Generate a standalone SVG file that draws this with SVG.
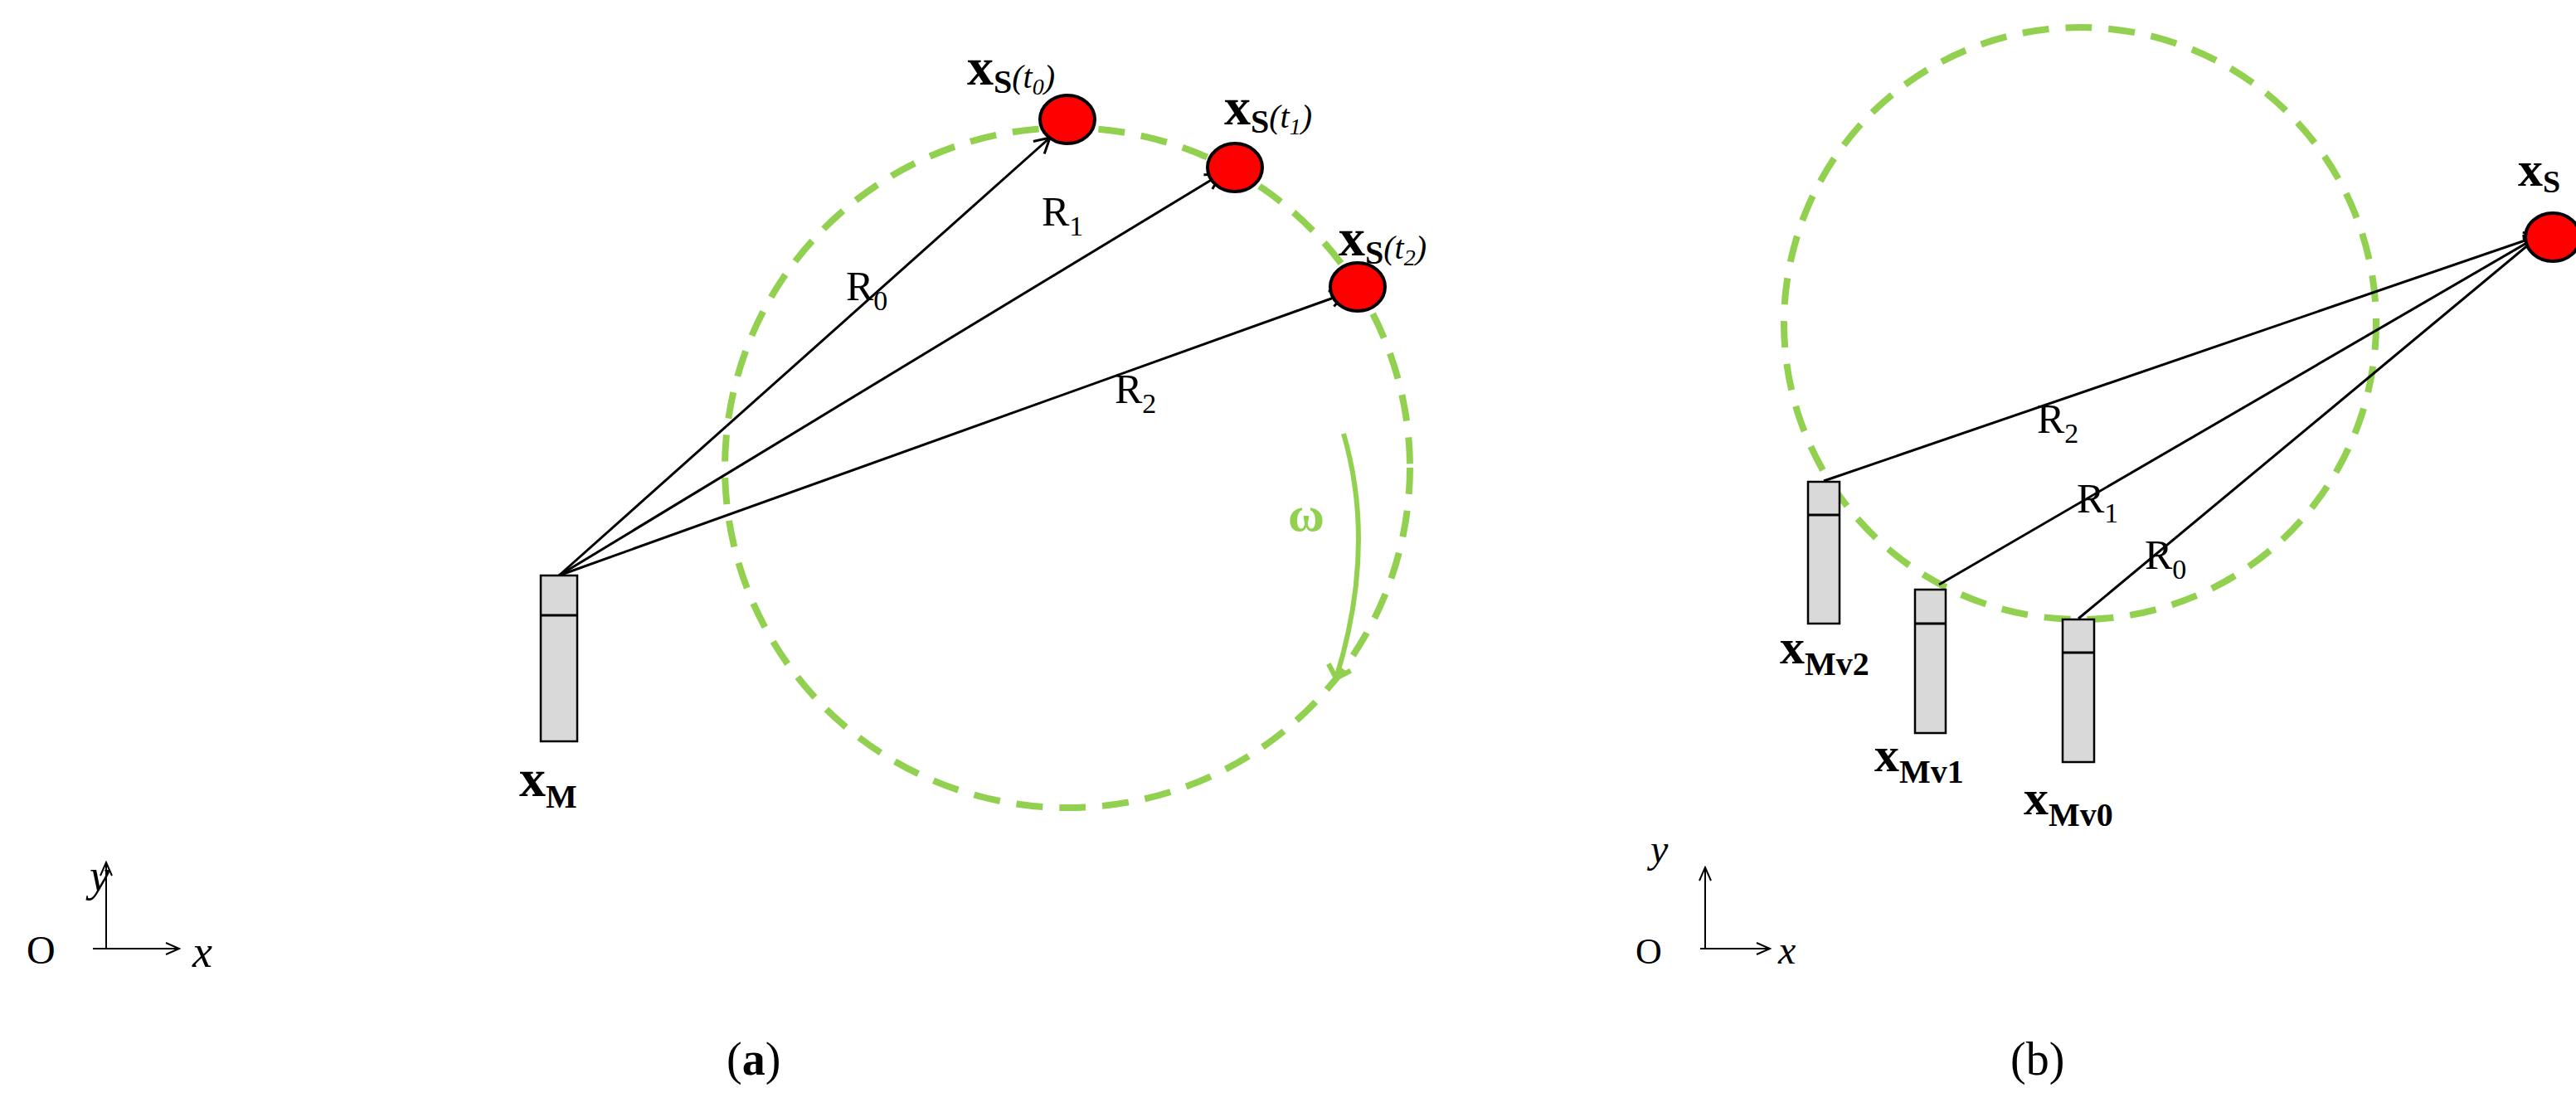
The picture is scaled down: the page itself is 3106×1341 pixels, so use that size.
<svg xmlns="http://www.w3.org/2000/svg" width="3106" height="1341" viewBox="0 0 3106 1341">
<defs>
<marker id="ah" markerWidth="10" markerHeight="10" refX="9" refY="5" orient="auto" markerUnits="userSpaceOnUse" viewBox="0 0 10 10"><path d="M0,0 L10,5 L0,10" fill="none" stroke="#000" stroke-width="1.5"/></marker>
<marker id="ah2" markerWidth="24" markerHeight="24" refX="20" refY="12" orient="auto" markerUnits="userSpaceOnUse"><path d="M2,2 L20,12 L2,22" fill="none" stroke="#000" stroke-width="3"/></marker>
<marker id="ax" markerWidth="20" markerHeight="20" refX="18" refY="10" orient="auto" markerUnits="userSpaceOnUse"><path d="M2,3 L18,10 L2,17" fill="none" stroke="#000" stroke-width="2"/></marker>
<marker id="ga" markerWidth="40" markerHeight="40" refX="20" refY="20" orient="auto" markerUnits="userSpaceOnUse"><path d="M6,6 L20,20 L6,34" fill="none" stroke="#92d050" stroke-width="6"/></marker>
</defs>
<style>
.orbit{fill:none;stroke:#92d050;stroke-width:8;stroke-dasharray:32 20}
.ln{stroke:#000;stroke-width:3;fill:none}
.sat{fill:#f00;stroke:#000;stroke-width:4}
.ant{fill:#d9d9d9;stroke:#000;stroke-width:2.5}
.t{font-family:"Liberation Serif",serif;fill:#000}
.b{font-weight:bold}
.i{font-style:italic}
</style>
<rect width="3106" height="1341" fill="#fff"/>
<g id="orbit-a"><ellipse class="orbit" cx="1287" cy="564" rx="413" ry="410"/></g>
<g id="orbit-b"><circle class="orbit" cx="2508" cy="390" r="357"/></g>
<g id="connectors">
<line class="ln" x1="674" y1="694" x2="1266" y2="166" marker-end="url(#ah2)"/>
<line class="ln" x1="674" y1="694" x2="1472" y2="210" marker-end="url(#ah2)"/>
<line class="ln" x1="674" y1="694" x2="1622" y2="354" marker-end="url(#ah2)"/>
<line class="ln" x1="2199" y1="580" x2="3062" y2="284" marker-end="url(#ah2)"/>
<line class="ln" x1="2338" y1="705" x2="3062" y2="284" marker-end="url(#ah2)"/>
<line class="ln" x1="2506" y1="746" x2="3062" y2="284" marker-end="url(#ah2)"/>
<path d="M1620,523 Q1660,660 1611,818" fill="none" stroke="#92d050" stroke-width="6" marker-end="url(#ga)"/>
<line x1="128" y1="1144" x2="128" y2="1040" stroke="#000" stroke-width="2" marker-end="url(#ax)"/>
<line x1="112" y1="1144" x2="216" y2="1144" stroke="#000" stroke-width="2" marker-end="url(#ax)"/>
<line x1="2056" y1="1144" x2="2056" y2="1046" stroke="#000" stroke-width="2" marker-end="url(#ax)"/>
<line x1="2050" y1="1144" x2="2134" y2="1144" stroke="#000" stroke-width="2" marker-end="url(#ax)"/>
</g>
<g id="sat-t0"><ellipse class="sat" cx="1287" cy="144" rx="33" ry="29"/></g>
<g id="sat-t1"><ellipse class="sat" cx="1489" cy="202" rx="33" ry="29"/></g>
<g id="sat-t2"><ellipse class="sat" cx="1637" cy="346" rx="33" ry="29"/></g>
<g id="sat-b"><ellipse class="sat" cx="3078" cy="286" rx="33" ry="29"/></g>
<g id="ant-M"><rect class="ant" x="652" y="694" width="44" height="200"/><line class="ln" x1="652" y1="742" x2="696" y2="742"/></g>
<g id="ant-Mv2"><rect class="ant" x="2180" y="581" width="38" height="171"/><line class="ln" x1="2180" y1="621" x2="2218" y2="621"/></g>
<g id="ant-Mv1"><rect class="ant" x="2309" y="711" width="37" height="173"/><line class="ln" x1="2309" y1="752" x2="2346" y2="752"/></g>
<g id="ant-Mv0"><rect class="ant" x="2487" y="747" width="38" height="172"/><line class="ln" x1="2487" y1="787" x2="2525" y2="787"/></g>
<g id="labels">
<text class="t" x="1020" y="362" font-size="50">R<tspan font-size="34" dy="12">0</tspan></text>
<text class="t" x="1256" y="272" font-size="50">R<tspan font-size="34" dy="12">1</tspan></text>
<text class="t" x="1344" y="486" font-size="50">R<tspan font-size="34" dy="12">2</tspan></text>
<text class="t" x="1166" y="102" font-size="64"><tspan class="b">x</tspan><tspan class="b" font-size="40" dy="10">S</tspan><tspan class="i" font-size="40" dy="-6">(t</tspan><tspan class="i" font-size="28" dy="8">0</tspan><tspan class="i" font-size="40" dy="-8">)</tspan></text>
<text class="t" x="1476" y="150" font-size="64"><tspan class="b">x</tspan><tspan class="b" font-size="40" dy="10">S</tspan><tspan class="i" font-size="40" dy="-6">(t</tspan><tspan class="i" font-size="28" dy="8">1</tspan><tspan class="i" font-size="40" dy="-8">)</tspan></text>
<text class="t" x="1614" y="308" font-size="64"><tspan class="b">x</tspan><tspan class="b" font-size="40" dy="10">S</tspan><tspan class="i" font-size="40" dy="-6">(t</tspan><tspan class="i" font-size="28" dy="8">2</tspan><tspan class="i" font-size="40" dy="-8">)</tspan></text>
<text class="t b" x="1553" y="640" font-size="60" fill="#92d050" style="fill:#92d050">ω</text>
<text class="t" x="626" y="960" font-size="64"><tspan class="b">x</tspan><tspan class="b" font-size="40" dy="14">M</tspan></text>
<text class="t" x="32" y="1162" font-size="48">O</text>
<text class="t i" x="108" y="1074" font-size="54">y</text>
<text class="t i" x="232" y="1166" font-size="54">x</text>
<text class="t" x="876" y="1296" font-size="56">(<tspan class="b">a</tspan>)</text>
<text class="t" x="2456" y="522" font-size="50">R<tspan font-size="34" dy="12">2</tspan></text>
<text class="t" x="2504" y="618" font-size="50">R<tspan font-size="34" dy="12">1</tspan></text>
<text class="t" x="2586" y="686" font-size="50">R<tspan font-size="34" dy="12">0</tspan></text>
<text class="t" x="3036" y="224" font-size="60"><tspan class="b">x</tspan><tspan class="b" font-size="38" dy="8">S</tspan></text>
<text class="t" x="2146" y="800" font-size="60"><tspan class="b">x</tspan><tspan class="b" font-size="40" dy="14">Mv2</tspan></text>
<text class="t" x="2260" y="930" font-size="60"><tspan class="b">x</tspan><tspan class="b" font-size="40" dy="14">Mv1</tspan></text>
<text class="t" x="2440" y="982" font-size="60"><tspan class="b">x</tspan><tspan class="b" font-size="40" dy="14">Mv0</tspan></text>
<text class="t" x="1972" y="1162" font-size="44">O</text>
<text class="t i" x="1990" y="1040" font-size="48">y</text>
<text class="t i" x="2144" y="1162" font-size="48">x</text>
<text class="t" x="2424" y="1296" font-size="56">(b)</text>
</g>
</svg>
